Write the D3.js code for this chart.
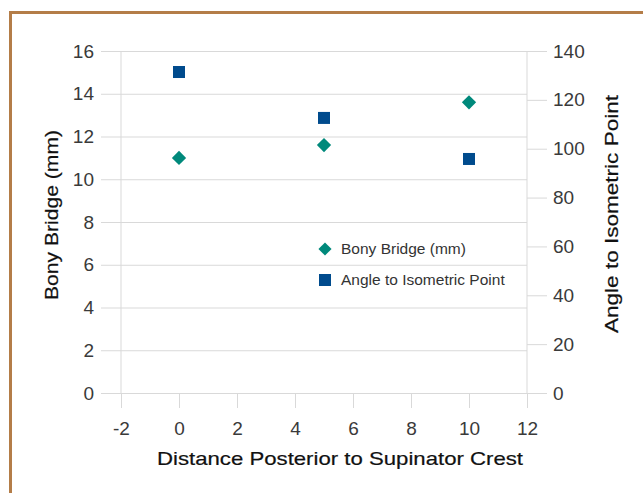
<!DOCTYPE html>
<html>
<head>
<meta charset="utf-8">
<script src="https://cdn.jsdelivr.net/npm/d3@7"></script>
<style>
  body { margin: 0; background: #fff; }
  text { font-family: "Liberation Sans", Arial, sans-serif; }
</style>
</head>
<body>
<div id="chart"></div>
<script>
const distances = [0, 5, 10];
const bonyBridge = [11.0, 11.6, 13.6];
const isoAngle = [131.4, 112.6, 95.8];
const xTicks = [-2, 0, 2, 4, 6, 8, 10, 12];
const leftTicks = [0, 2, 4, 6, 8, 10, 12, 14, 16];
const rightTicks = [0, 20, 40, 60, 80, 100, 120, 140];
const seriesNames = ['Bony Bridge (mm)', 'Angle to Isometric Point'];

const W = 643, H = 493;
const margin = {top: 51, right: 116, bottom: 100, left: 121};
const width = W - margin.left - margin.right;
const height = H - margin.top - margin.bottom;

const svg = d3.select('#chart').append('svg')
  .attr('width', W).attr('height', H);

// frame
svg.append('rect')
  .attr('x', 10.5).attr('y', 12.5)
  .attr('width', 700).attr('height', 600)
  .attr('fill', 'none')
  .attr('stroke', '#b47d48')
  .attr('stroke-width', 3);

const g = svg.append('g')
  .attr('transform', 'translate(' + margin.left + ',' + margin.top + ')');

const x = d3.scaleLinear().domain([-2, 12]).range([0, width]);
const yL = d3.scaleLinear().domain([0, 16]).range([height, 0]);
const yR = d3.scaleLinear().domain([0, 140]).range([height, 0]);

const grid = '#d9d9d9';
const tickText = '#3a3a3a';
const fmt = d => String(d);

// horizontal gridlines with left ticks
g.append('g')
  .call(d3.axisLeft(yL).tickValues(leftTicks).tickFormat(fmt).tickSize(-width))
  .call(a => a.select('.domain').remove())
  .call(a => a.selectAll('line').attr('x1', -20).attr('stroke', grid))
  .call(a => a.selectAll('text').attr('x', -27).attr('fill', tickText).style('font-size', '19px'));

// right axis
g.append('g')
  .attr('transform', 'translate(' + width + ',0)')
  .call(d3.axisRight(yR).tickValues(rightTicks).tickFormat(fmt).tickSize(20).tickPadding(6))
  .call(a => a.select('.domain').remove())
  .call(a => a.selectAll('line').attr('stroke', grid))
  .call(a => a.selectAll('text').attr('fill', tickText).style('font-size', '19px'));

// x axis ticks
g.append('g')
  .attr('transform', 'translate(0,' + height + ')')
  .call(d3.axisBottom(x).tickValues(xTicks).tickFormat(fmt).tickSize(15).tickPadding(14))
  .call(a => a.select('.domain').remove())
  .call(a => a.selectAll('line').attr('stroke', grid))
  .call(a => a.selectAll('text').attr('fill', tickText).style('font-size', '19px'));

// vertical side lines
[-2, 12].forEach(v => {
  g.append('line')
    .attr('x1', x(v)).attr('x2', x(v))
    .attr('y1', 0).attr('y2', height)
    .attr('stroke', grid);
});

// series
const diamond = d3.symbol().type(d3.symbolDiamond2).size(130);
g.selectAll('.bony').data(distances).enter().append('path')
  .attr('class', 'bony')
  .attr('d', diamond)
  .attr('transform', (d, i) => 'translate(' + x(d) + ',' + yL(bonyBridge[i]) + ')')
  .attr('fill', '#00897b');

const sq = 12;
g.selectAll('.angle').data(distances).enter().append('rect')
  .attr('class', 'angle')
  .attr('x', d => x(d) - sq / 2)
  .attr('y', (d, i) => yR(isoAngle[i]) - sq / 2)
  .attr('width', sq).attr('height', sq)
  .attr('fill', '#004b8d');

// axis titles
const titleStyle = t => t
  .attr('text-anchor', 'middle')
  .attr('lengthAdjust', 'spacingAndGlyphs')
  .style('font-size', '19px')
  .attr('fill', '#111')
  .attr('stroke', '#111').attr('stroke-width', 0.2);

svg.append('text')
  .attr('transform', 'translate(58,215) rotate(-90)')
  .attr('textLength', 170)
  .call(titleStyle)
  .text('Bony Bridge (mm)');

svg.append('text')
  .attr('transform', 'translate(618,214) rotate(-90)')
  .attr('textLength', 238)
  .call(titleStyle)
  .text('Angle to Isometric Point');

svg.append('text')
  .attr('x', 340).attr('y', 465)
  .attr('textLength', 366)
  .call(titleStyle)
  .text('Distance Posterior to Supinator Crest');

// legend
const legend = svg.append('g').attr('transform', 'translate(325,249)');
legend.append('path')
  .attr('d', d3.symbol().type(d3.symbolDiamond2).size(110))
  .attr('fill', '#00897b');
legend.append('rect')
  .attr('x', -6).attr('y', 25).attr('width', 12).attr('height', 12)
  .attr('fill', '#004b8d');
legend.selectAll('.lbl').data(seriesNames).enter().append('text')
  .attr('x', 16).attr('y', (d, i) => 5 + i * 31)
  .style('font-size', '15.5px').attr('fill', '#333')
  .text(d => d);
</script>
</body>
</html>
